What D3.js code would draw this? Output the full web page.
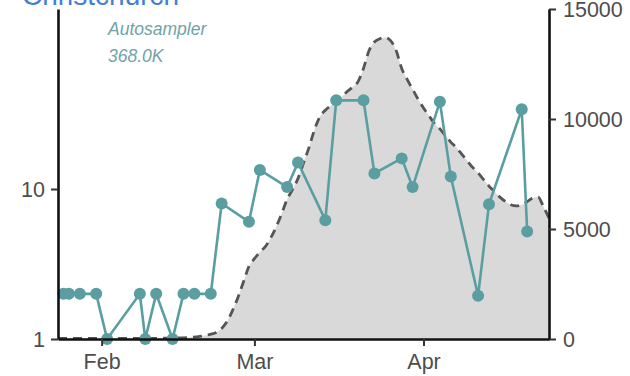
<!DOCTYPE html>
<html>
<head>
<meta charset="utf-8">
<script src="https://cdn.jsdelivr.net/npm/d3@7"></script>
<style>
  html, body { margin: 0; padding: 0; background: #ffffff; }
  svg { display: block; font-family: "Liberation Sans", Arial, Helvetica, sans-serif; }
</style>
</head>
<body>
<svg id="chart" width="630" height="376"></svg>
<script>
// ---- data ----
const title = "Christchurch";
const annotationLines = ["Autosampler", "368.0K"];

// wastewater sample results (left, log axis)
const sampleDates = ["2022-01-25","2022-01-26","2022-01-28","2022-01-31","2022-02-02","2022-02-08","2022-02-09",
  "2022-02-11","2022-02-14","2022-02-16","2022-02-18","2022-02-21","2022-02-23","2022-02-28","2022-03-02",
  "2022-03-07","2022-03-09","2022-03-14","2022-03-16","2022-03-21","2022-03-23","2022-03-28","2022-03-30",
  "2022-04-04","2022-04-06","2022-04-11","2022-04-13","2022-04-19","2022-04-20"];
const sampleValues = [2,2,2,2,1,2,1,
  2,1,2,2,2,8.0,6.05,13.4,
  10.3,15.0,6.2,39,39,12.7,16.0,10.3,
  38.2,12.1,1.94,7.9,34,5.2];

// smoothed cases (right, linear axis)
const caseDates = ["2022-01-24","2022-02-10","2022-02-14","2022-02-17","2022-02-19","2022-02-21","2022-02-22",
  "2022-02-23","2022-02-24","2022-02-25","2022-02-26","2022-02-27","2022-02-28","2022-03-01","2022-03-02",
  "2022-03-03","2022-03-04","2022-03-05","2022-03-06","2022-03-07","2022-03-08","2022-03-09","2022-03-10",
  "2022-03-11","2022-03-12","2022-03-13","2022-03-14","2022-03-15","2022-03-16","2022-03-17","2022-03-18",
  "2022-03-19","2022-03-20","2022-03-21","2022-03-22","2022-03-23","2022-03-24","2022-03-25","2022-03-26",
  "2022-03-27","2022-03-28","2022-03-29","2022-03-30","2022-03-31","2022-04-01","2022-04-02","2022-04-03",
  "2022-04-04","2022-04-05","2022-04-06","2022-04-07","2022-04-08","2022-04-09","2022-04-10","2022-04-11",
  "2022-04-12","2022-04-13","2022-04-14","2022-04-15","2022-04-16","2022-04-17","2022-04-18","2022-04-19",
  "2022-04-20","2022-04-21","2022-04-22","2022-04-23","2022-04-24"];
const caseValues = [30,30,40,70,120,220,300,
  480,800,1300,1900,2600,3300,3650,3950,
  4200,4600,5100,5700,6350,6800,7300,8000,
  8700,9500,10100,10400,10600,10800,11000,11250,
  11450,11700,12300,13100,13500,13650,13700,13550,
  13100,12300,11800,11350,10900,10500,10150,9800,
  9550,9250,8950,8700,8400,8100,7800,7550,
  7250,6950,6700,6450,6250,6100,6050,6100,
  6250,6400,6450,6000,5500];

const xDomain = ["2022-01-24","2022-04-24"];
const xTickDates = ["2022-02-01","2022-03-01","2022-04-01"];
const xTickLabels = ["Feb","Mar","Apr"];
const leftTicks = [1, 10];
const leftDomain = [1, Math.pow(10, 2.2)];
const rightTicks = [0, 5000, 10000, 15000];
const rightDomain = [0, 15000];

// ---- layout ----
const parse = d3.timeParse("%Y-%m-%d");
const pLeft = 58, pRight = 549, pTop = 9, pBottom = 339;
const svg = d3.select("#chart");

const x = d3.scaleTime().domain(xDomain.map(parse)).range([pLeft, pRight]);
const yL = d3.scaleLog().domain(leftDomain).range([pBottom, pTop]);
const yR = d3.scaleLinear().domain(rightDomain).range([pBottom, pTop]);

const teal = "#5a9ea1";

svg.append("defs").append("clipPath").attr("id", "plotclip")
  .append("rect").attr("x", pLeft).attr("y", 0).attr("width", pRight - pLeft).attr("height", pBottom);

const cases = caseDates.map((d, i) => ({ date: parse(d), v: caseValues[i] }));
const samples = sampleDates.map((d, i) => ({ date: parse(d), v: sampleValues[i] }));

const gArea = svg.append("g").attr("clip-path", "url(#plotclip)");
gArea.append("path").datum(cases)
  .attr("fill", "#d9d9d9")
  .attr("d", d3.area().x(d => x(d.date)).y0(pBottom).y1(d => yR(d.v)).curve(d3.curveMonotoneX));
gArea.append("path").datum(cases)
  .attr("fill", "none").attr("stroke", "#555555").attr("stroke-width", 2.8)
  .attr("stroke-dasharray", "9,6")
  .attr("d", d3.line().x(d => x(d.date)).y(d => yR(d.v)).curve(d3.curveMonotoneX));

// title (mostly cut off at top, as in the reference)
svg.append("text").attr("x", 22).attr("y", 5)
  .attr("font-size", 28).attr("fill", "#3f7fd8").text(title);

// annotation
svg.append("text").attr("x", 108).attr("y", 35).attr("font-size", 17.5)
  .attr("font-style", "italic").attr("fill", "#6fa3a6").text(annotationLines[0]);
svg.append("text").attr("x", 108).attr("y", 62).attr("font-size", 17.5)
  .attr("font-style", "italic").attr("fill", "#6fa3a6").text(annotationLines[1]);

// sample line + points
svg.append("path").datum(samples)
  .attr("fill", "none").attr("stroke", teal).attr("stroke-width", 2.6)
  .attr("d", d3.line().x(d => x(d.date)).y(d => yL(d.v)));
svg.append("g").selectAll("circle").data(samples).join("circle")
  .attr("cx", d => x(d.date)).attr("cy", d => yL(d.v)).attr("r", 6).attr("fill", teal);

// axes
function styleAxis(g) {
  g.select(".domain").attr("stroke", "#111").attr("stroke-width", 2.6);
  g.selectAll(".tick line").attr("stroke", "#333").attr("stroke-width", 2);
  g.selectAll(".tick text").attr("fill", "#4d4d4d").attr("font-size", 21.5)
    .attr("font-family", "'Liberation Sans', Arial, Helvetica, sans-serif");
}

svg.append("g").attr("transform", `translate(${pLeft},0)`)
  .call(d3.axisLeft(yL).tickValues(leftTicks).tickFormat(d3.format("d")).tickSize(7).tickSizeOuter(0).tickPadding(6))
  .call(styleAxis)
  .selectAll(".tick text").attr("dy", "0.36em");

svg.append("g").attr("transform", `translate(${pRight},0)`)
  .call(d3.axisRight(yR).tickValues(rightTicks).tickFormat(d3.format("d")).tickSize(7).tickSizeOuter(0).tickPadding(7))
  .call(styleAxis)
  .selectAll(".tick text").attr("dy", "0.36em");

svg.append("g").attr("transform", `translate(0,${pBottom})`)
  .call(d3.axisBottom(x).tickValues(xTickDates.map(parse)).tickFormat((d, i) => xTickLabels[i]).tickSize(7).tickSizeOuter(0).tickPadding(7))
  .call(styleAxis)
  .selectAll(".tick text").attr("dy", "0.75em");
</script>
</body>
</html>
